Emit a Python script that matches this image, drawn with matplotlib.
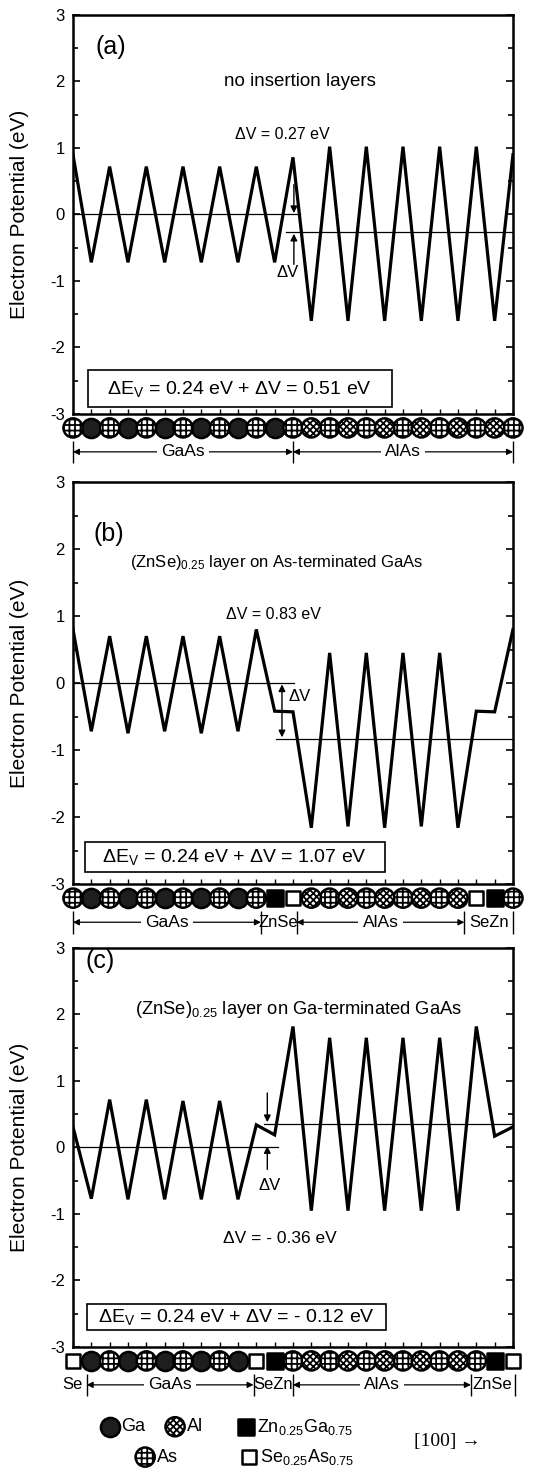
import matplotlib
matplotlib.use("Agg")
import matplotlib.pyplot as plt
from matplotlib.ticker import MultipleLocator
from matplotlib.patches import Rectangle

plt.rcParams['font.family'] = ['Liberation Sans', 'DejaVu Sans']
plt.rcParams['mathtext.default'] = 'regular'
plt.rcParams['hatch.linewidth'] = 1.3

# atomic planes along [100]
planes = list(range(25))

# planar averaged potential at each plane (eV)
pot_a = [0.90, -0.72, 0.72, -0.72, 0.72, -0.72, 0.72, -0.72, 0.72, -0.72, 0.72, -0.72, 0.86,
         -1.60, 1.02, -1.60, 1.02, -1.60, 1.02, -1.60, 1.02, -1.60, 1.02, -1.60, 0.90]
pot_b = [0.80, -0.72, 0.70, -0.75, 0.70, -0.72, 0.70, -0.75, 0.70, -0.72, 0.80, -0.42, -0.43,
         -2.16, 0.45, -2.14, 0.45, -2.16, 0.45, -2.14, 0.45, -2.16, -0.42, -0.43, 0.80]
pot_c = [0.31, -0.77, 0.72, -0.78, 0.72, -0.78, 0.70, -0.78, 0.70, -0.78, 0.34, 0.19, 1.82,
         -0.95, 1.65, -0.95, 1.65, -0.95, 1.65, -0.95, 1.65, -0.95, 1.82, 0.17, 0.31]

atoms_a = ['As', 'Ga'] * 6 + ['As'] + ['Al', 'As'] * 6
atoms_b = ['As', 'Ga'] * 5 + ['As', 'Zn', 'Se'] + ['Al', 'As'] * 4 + ['Al', 'Se', 'Zn', 'As']
atoms_c = ['Se'] + ['Ga', 'As'] * 4 + ['Ga', 'Se', 'Zn'] + ['As', 'Al'] * 5 + ['As', 'Zn', 'Se']

# average potential levels: (level, from plane, to plane)
levels_a = [(0.0, 0, 12.4), (-0.27, 11.6, 24)]
levels_b = [(0.0, 0, 12.05), (-0.83, 11.1, 24)]
levels_c = [(0.0, 0, 11.2), (0.36, 10.4, 24)]

dv = [0.27, 0.83, -0.36]
dev = [0.51, 1.07, -0.12]
tags = ['(a)', '(b)', '(c)']
titles = ['no insertion layers',
          '(ZnSe)$_{0.25}$ layer on As-terminated GaAs',
          '(ZnSe)$_{0.25}$ layer on Ga-terminated GaAs']

# region labels under the atoms: (text, start, end, arrows)
regions_a = [('GaAs', 0, 12, True), ('AlAs', 12, 24, True)]
regions_b = [('GaAs', 0, 10.25, True), ('ZnSe', 10.25, 12.2, False),
             ('AlAs', 12.2, 21.35, True), ('SeZn', 21.35, 24, False)]
regions_c = [('Se', -0.8, 0.75, False), ('GaAs', 0.75, 9.85, True), ('SeZn', 9.85, 12.0, False),
             ('AlAs', 12.0, 21.7, True), ('ZnSe', 21.7, 24.1, False)]
bars_a = [0, 12, 24]
bars_b = [0, 10.25, 12.2, 21.35, 24]
bars_c = [0.75, 9.85, 12.0, 21.7, 24.1]

atom_style = {
    'Ga': dict(marker='o', s=190, facecolor='#1e1e1e', hatch=None),
    'As': dict(marker='o', s=190, facecolor='white', hatch='+++'),
    'Al': dict(marker='o', s=190, facecolor='white', hatch='xxxxx'),
    'Zn': dict(marker='s', s=130, facecolor='black', hatch=None),
    'Se': dict(marker='s', s=110, facecolor='white', hatch=None),
}


def draw_atoms(ax, xs, names, y, transform=None):
    for kind, st in atom_style.items():
        px = [x for x, n in zip(xs, names) if n == kind]
        if not px:
            continue
        kw = dict(marker=st['marker'], s=st['s'], facecolor=st['facecolor'],
                  edgecolor='black', linewidths=1.8, clip_on=False, zorder=6)
        if st['hatch']:
            kw['hatch'] = st['hatch']
        if transform is not None:
            kw['transform'] = transform
        ax.scatter(px, [y] * len(px), **kw)


fig = plt.figure(figsize=(5.41, 14.70), dpi=100)
boxes = [[0.1349, 0.7184, 0.8133, 0.2714],
         [0.1349, 0.3986, 0.8133, 0.2735],
         [0.1349, 0.0837, 0.8133, 0.2714]]

pots = [pot_a, pot_b, pot_c]
atoms = [atoms_a, atoms_b, atoms_c]
levels = [levels_a, levels_b, levels_c]
regions = [regions_a, regions_b, regions_c]
bars = [bars_a, bars_b, bars_c]
tag_pos = [(2.05, 2.52), (1.95, 2.22), (1.5, 2.8)]
title_pos = [(12.4, 2.0), (11.1, 1.8), (12.3, 2.07)]
title_size = [13.5, 12.0, 13.2]
dv_pos = [(11.4, 1.2), (10.95, 1.02), (11.3, -1.37)]
dv_size = [11.5, 11.5, 12.5]
# frame of the ΔE box: (x0, x1, y0, y1)
frame = [(0.8, 17.4, -2.90, -2.34), (0.66, 17.0, -2.82, -2.37), (0.75, 17.1, -2.74, -2.36)]

for k in range(3):
    ax = fig.add_axes(boxes[k])
    ax.plot(planes, pots[k], color='black', lw=2.3, solid_joinstyle='miter', zorder=3)
    for lev, x0, x1 in levels[k]:
        ax.plot([x0, x1], [lev, lev], color='black', lw=0.9, zorder=2)

    ax.set_xlim(0, 24)
    ax.set_ylim(-3, 3)
    ax.set_yticks([-3, -2, -1, 0, 1, 2, 3])
    ax.set_yticklabels(['-3', '-2', '-1', '0', '1', '2', '3'])
    ax.yaxis.set_minor_locator(MultipleLocator(0.5))
    ax.set_xticks(planes)
    ax.set_xticklabels([])
    ax.tick_params(axis='y', which='both', direction='in', left=True, right=True,
                   labelsize=12, width=1.2, pad=6)
    ax.tick_params(axis='y', which='major', length=5)
    ax.tick_params(axis='y', which='minor', length=3.5)
    ax.tick_params(axis='x', direction='in', length=3.5, width=1.0, bottom=True, top=False)
    for sp in ax.spines.values():
        sp.set_linewidth(1.8)
    ax.set_ylabel('Electron Potential (eV)', fontsize=15)
    ax.yaxis.set_label_coords(-0.10, 0.5)

    ax.text(*tag_pos[k], tags[k], fontsize=18, ha='center', va='center')
    ax.text(*title_pos[k], titles[k], fontsize=title_size[k], ha='center', va='center')
    sign = '- ' if dv[k] < 0 else ''
    ax.text(*dv_pos[k], f'ΔV = {sign}{abs(dv[k]):.2f} eV', fontsize=dv_size[k],
            ha='center', va='center')

    x0, x1, y0, y1 = frame[k]
    ax.add_patch(Rectangle((x0, y0), x1 - x0, y1 - y0, fc='white', ec='black',
                           lw=1.2, zorder=4))
    sign = '- ' if dev[k] < 0 else ''
    ax.text((x0 + x1) / 2, (y0 + y1) / 2, f'ΔE$_V$ = 0.24 eV + ΔV = {sign}{abs(dev[k]):.2f} eV',
            fontsize=14, ha='center', va='center', zorder=5)

    # atoms and layer labels below the axis
    draw_atoms(ax, planes, atoms[k], -3.21)
    yl = -3.57
    ax.vlines(bars[k], -3.40, -3.74, color='black', lw=1.0, clip_on=False, zorder=7)
    for name, x0, x1, arrows in regions[k]:
        if arrows:
            ax.annotate('', xy=(x0, yl), xytext=(x1, yl), annotation_clip=False,
                        arrowprops=dict(arrowstyle='<|-|>', lw=0.9, color='black',
                                        shrinkA=0, shrinkB=0, mutation_scale=9))
            ax.text((x0 + x1) / 2, yl, name, fontsize=12.5, ha='center', va='center',
                    clip_on=False, zorder=5,
                    bbox=dict(boxstyle='square,pad=0.25', fc='white', ec='none'))
        else:
            ax.text((x0 + x1) / 2, yl, name, fontsize=12, ha='center', va='center',
                    clip_on=False, zorder=5)

    arrow_kw = dict(arrowstyle='-|>', lw=1.0, color='black', shrinkA=0, shrinkB=0,
                    mutation_scale=10)
    if k == 0:
        ax.annotate('', xy=(12.05, 0.02), xytext=(12.05, 0.45), arrowprops=arrow_kw)
        ax.annotate('', xy=(12.05, -0.29), xytext=(12.05, -0.75), arrowprops=arrow_kw)
        ax.text(11.7, -0.87, 'ΔV', fontsize=12, ha='center', va='center')
    elif k == 1:
        ax.annotate('', xy=(11.4, -0.02), xytext=(11.4, -0.81),
                    arrowprops=dict(arrow_kw, arrowstyle='<|-|>'))
        ax.text(12.35, -0.2, 'ΔV', fontsize=12, ha='center', va='center')
    else:
        ax.annotate('', xy=(10.6, 0.38), xytext=(10.6, 0.82), arrowprops=arrow_kw)
        ax.annotate('', xy=(10.6, 0.02), xytext=(10.6, -0.33), arrowprops=arrow_kw)
        ax.text(10.75, -0.57, 'ΔV', fontsize=12, ha='center', va='center')
        axc = ax

# key to the atom symbols
key_items = [('Ga', 'Ga', 0.083, -0.200), ('Al', 'Al', 0.232, -0.200),
             ('Zn', 'Zn$_{0.25}$Ga$_{0.75}$', 0.393, -0.200),
             ('As', 'As', 0.164, -0.276), ('Se', 'Se$_{0.25}$As$_{0.75}$', 0.400, -0.276)]
for kind, label, kx, ky in key_items:
    draw_atoms(axc, [kx], [kind], ky, transform=axc.transAxes)
    axc.text(kx + 0.026, ky, label, fontsize=13, ha='left', va='center',
             transform=axc.transAxes, clip_on=False)
axc.text(0.774, -0.238, '[100] →', fontsize=14, ha='left', va='center',
         family=['Liberation Serif', 'DejaVu Serif'], transform=axc.transAxes)

fig.savefig('out.png', dpi=100)
